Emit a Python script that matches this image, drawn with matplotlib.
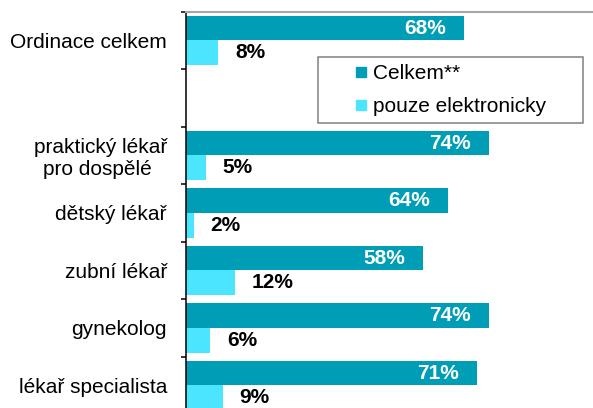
import matplotlib.pyplot as plt
from matplotlib.lines import Line2D
import numpy as np

plt.rcParams['font.family'] = ['Liberation Sans', 'DejaVu Sans']

# data (blank row = spacer between total and the rest)
categories = ['Ordinace celkem', '', 'praktický lékař\npro dospělé ', 'dětský lékař',
              'zubní lékař', 'gynekolog', 'lékař specialista']
celkem = [68, np.nan, 74, 64, 58, 74, 71]
elektronicky = [8, np.nan, 5, 2, 12, 6, 9]

dark = '#009DB6'
light = '#4BE5FF'

fig = plt.figure(figsize=(5.93, 4.08), dpi=100)
ax = fig.add_axes([0.3131, -0.0152, 0.6914, 0.9865])

y = np.arange(len(categories))
h = 0.43
ax.barh(y - h / 2, celkem, height=h, color=dark, label='Celkem**')
ax.barh(y + h / 2, elektronicky, height=h, color=light, label='pouze elektronicky')

ax.set_xlim(0, 100)
ax.set_ylim(len(categories) - 0.5, -0.5)

# value labels
for i in range(len(categories)):
    if np.isnan(celkem[i]):
        continue
    ax.annotate(f'{celkem[i]:.0f}%', (celkem[i], y[i] - h / 2), xytext=(-13, 0),
                textcoords='offset points', ha='right', va='center',
                color='white', fontsize=15, fontweight='bold')
    ax.annotate(f'{elektronicky[i]:.0f}%', (elektronicky[i], y[i] + h / 2), xytext=(12, 0),
                textcoords='offset points', ha='left', va='center',
                color='black', fontsize=15, fontweight='bold')

# ticks at category boundaries, labels at centres
ax.set_yticks(np.arange(len(categories) + 1) - 0.5)
ax.set_yticklabels([])
ax.set_yticks(y, minor=True)
ax.set_yticklabels(categories, minor=True, fontsize=15, multialignment='center')
ax.tick_params(axis='y', which='major', length=3.3, width=1.1, direction='out', color='black')
ax.tick_params(axis='y', which='minor', length=0, pad=13.5)
ax.set_xticks([])

for s in ['right', 'bottom']:
    ax.spines[s].set_visible(False)
ax.spines['left'].set_linewidth(1.1)
ax.spines['left'].set_color('black')
ax.spines['top'].set_linewidth(1.5)
ax.spines['top'].set_color('#A6A6A6')

handles = [Line2D([], [], marker='s', linestyle='none', markersize=7.5, color=dark),
           Line2D([], [], marker='s', linestyle='none', markersize=7.5, color=light)]
leg = fig.legend(handles, ['Celkem**', 'pouze elektronicky'],
                 loc='upper left', bbox_to_anchor=(318 / 593, 1 - 57 / 408, 265 / 593, 0),
                 bbox_transform=fig.transFigure, mode='expand', borderaxespad=0,
                 fontsize=15, frameon=True, fancybox=False, framealpha=1,
                 edgecolor='#808080', borderpad=0.35, labelspacing=0.65,
                 handlelength=3.4, handletextpad=-1.1)
leg.get_frame().set_linewidth(1.1)

fig.savefig('out.png', dpi=100)
